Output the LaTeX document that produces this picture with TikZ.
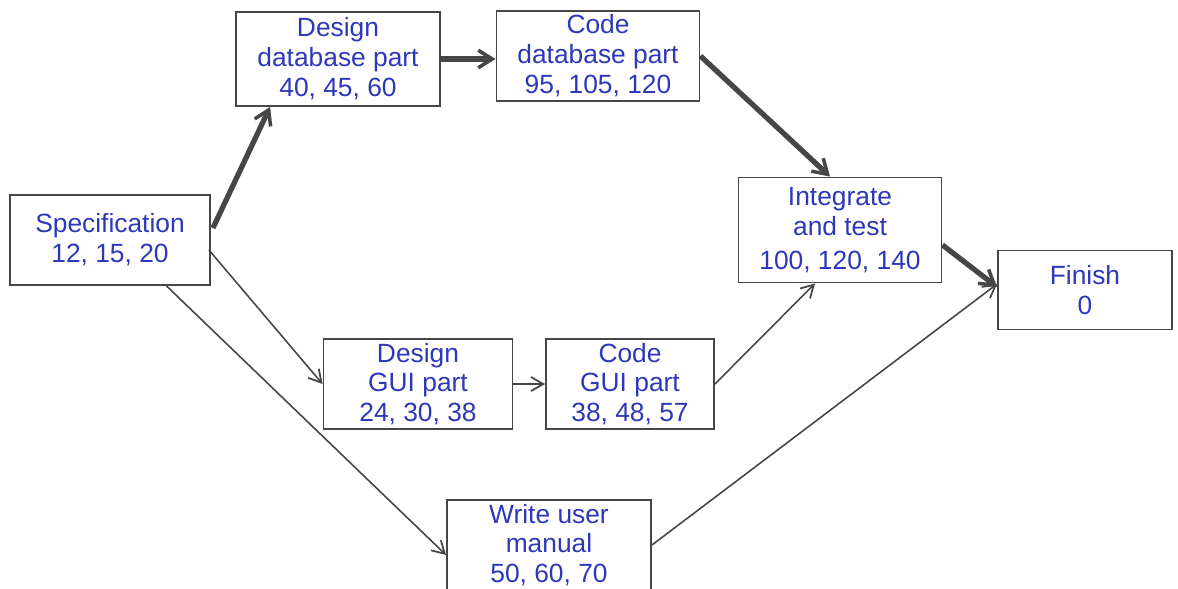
\documentclass[tikz,border=0pt]{standalone}
\usepackage{fontspec}
\setmainfont{Liberation Sans}
\usetikzlibrary{arrows.meta,calc}
\definecolor{ink}{RGB}{45,55,185}
\definecolor{pencil}{RGB}{70,70,70}
\begin{document}
\begin{tikzpicture}[x=0.02cm,y=-0.02cm,
  box/.style={draw=pencil,line width=1.1pt,rectangle,align=center,inner sep=2pt,
    text=ink,font=\fontsize{15}{17}\selectfont},
  thin/.style={draw=pencil,line width=0.9pt,-{Straight Barb[length=7pt,width=8pt,line width=1pt]}},
  crit/.style={draw=pencil,line width=3pt,-{Straight Barb[length=8pt,width=10pt,line width=2pt]}}]
\useasboundingbox (0,0) rectangle (1178,589);
\node[box,minimum width=4cm,minimum height=1.8cm] (spec) at (110,240) {Specification\\12, 15, 20};
\node[box,minimum width=4.08cm,minimum height=1.88cm] (ddb) at (338,59) {Design\\database part\\40, 45, 60};
\node[box,minimum width=4.06cm,minimum height=1.78cm] (cdb) at (598,56) {Code\\database part\\95, 105, 120};
\node[box,minimum width=4.06cm,minimum height=2.1cm] (integ) at (840,230) {Integrate\\and test\\[2pt]100, 120, 140};
\node[box,minimum width=3.48cm,minimum height=1.58cm] (finish) at (1085,290) {Finish\\0};
\node[box,minimum width=3.78cm,minimum height=1.76cm] (dgui) at (418,384) {Design\\GUI part\\24, 30, 38};
\node[box,minimum width=3.36cm,minimum height=1.76cm] (cgui) at (630,384) {Code\\GUI part\\38, 48, 57};
\node[box,minimum width=4.08cm,minimum height=1.58cm] (wum) at (549,545) {Write user\\manual\\50, 60, 70};
% critical path
\draw[crit] ($(spec.east)+(2,-12)$) -- ($(ddb.south west)!0.17!(ddb.south east)$);
\draw[crit] (ddb.east) -- (cdb.west |- ddb.east);
\draw[crit] (cdb.east) -- ($(integ.north)+(-10,0)$);
\draw[crit] ($(integ.east)+(0,15)$) -- ($(finish.west)+(0,-3)$);
% other arrows
\draw[thin] ($(spec.east)+(-2,10)$) -- (dgui.west);
\draw[thin] ($(spec.south west)!0.78!(spec.south east)$) -- ($(wum.west)+(0,10)$);
\draw[thin] (dgui.east) -- (cgui.west);
\draw[thin] (cgui.east) -- ($(integ.south)+(-25,0)$);
\draw[thin] (wum.east) -- ($(finish.west)+(0,-6)$);
\end{tikzpicture}
\end{document}
